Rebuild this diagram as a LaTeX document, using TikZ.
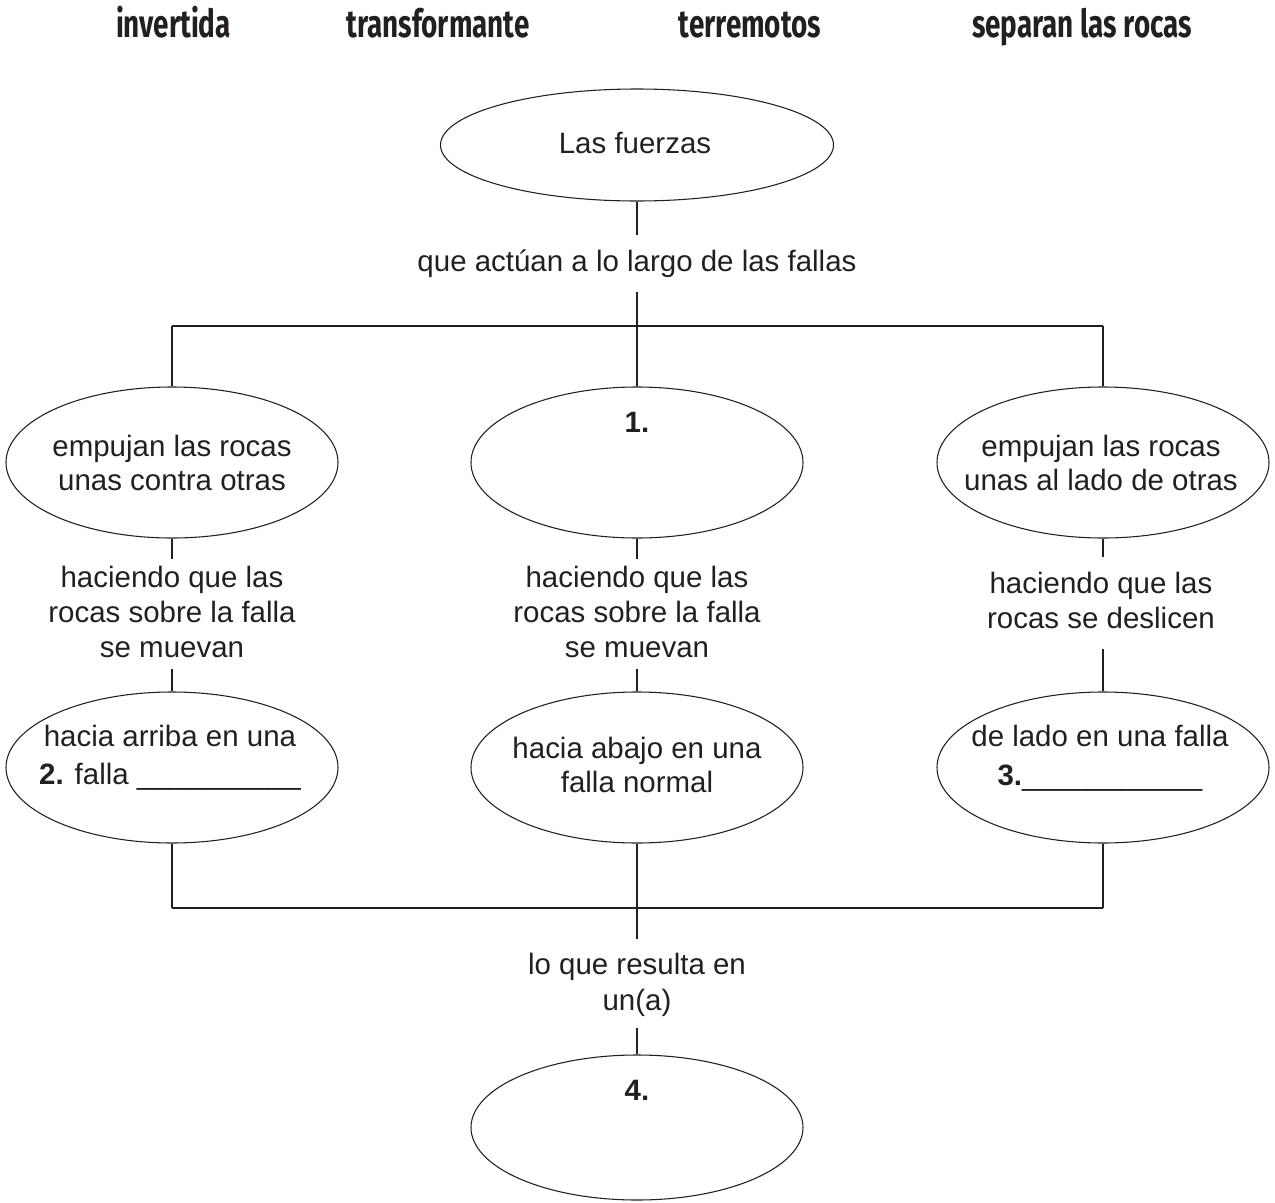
\documentclass[tikz,border=0pt]{standalone}
\usepackage{fontspec}
\setmainfont{Liberation Sans}
\newfontfamily\headfont[FakeStretch=0.72]{Fira Sans}
\usetikzlibrary{shapes.geometric}
\definecolor{ink}{HTML}{231F20}
\begin{document}
\begin{tikzpicture}[x=0.75pt,y=-0.75pt,
  ell/.style={ellipse,draw=ink,line width=0.8pt,inner sep=0pt,minimum width=249pt,minimum height=113.25pt},
  txt/.style={anchor=base,inner sep=0pt,text=ink,font=\fontsize{22.1}{26}\selectfont},
  head/.style={anchor=base,inner sep=0pt,text=ink,font=\headfont\bfseries\fontsize{29}{30}\selectfont},
  link/.style={draw=ink,line width=0.8pt}]
\useasboundingbox (0,0) rectangle (1275,1203);

% word bank
\node[head] (w1) at (173.5,37) {invertida};
\node[head] (w2) at (438,37) {transformante};
\node[head] (w3) at (750,37) {terremotos};
\node[head] (w4) at (1082,37) {separan las rocas};

% top
\node[ell,minimum width=294.75pt,minimum height=84pt] (F) at (637,145) {};
\node[txt] (tF) at (635,153) {Las fuerzas};
\coordinate (q1) at (637,235);
\node[txt] (tq) at (637,271) {que actúan a lo largo de las fallas};
\coordinate (q2) at (637,292);
\coordinate (bL) at (172,326);
\coordinate (bM) at (637,326);
\coordinate (bR) at (1103,326);

% middle row
\node[ell] (A) at (172,462.5) {};
\node[ell] (B) at (637,462.5) {};
\node[ell] (C) at (1103,462.5) {};
\node[txt] (tA1) at (172,456) {empujan las rocas};
\node[txt] (tA2) at (172,490) {unas contra otras};
\node[txt] (tB1) at (637,432) {\textbf{1.}};
\node[txt] (tC1) at (1101,456) {empujan las rocas};
\node[txt] (tC2) at (1101,490) {unas al lado de otras};

% connector labels
\coordinate (a1) at (172,559);
\node[txt] (hA1) at (172,587) {haciendo que las};
\node[txt] (hA2) at (172,622) {rocas sobre la falla};
\node[txt] (hA3) at (172,657) {se muevan};
\coordinate (a2) at (172,669);
\coordinate (m1) at (637,559);
\node[txt] (hB1) at (637,587) {haciendo que las};
\node[txt] (hB2) at (637,622) {rocas sobre la falla};
\node[txt] (hB3) at (637,657) {se muevan};
\coordinate (m2) at (637,669);
\coordinate (r1) at (1103,557);
\node[txt] (hC1) at (1101,593) {haciendo que las};
\node[txt] (hC2) at (1101,628) {rocas se deslicen};
\coordinate (r2) at (1103,649);

% bottom row
\node[ell] (D) at (172,767.5) {};
\node[ell] (E) at (637,767.5) {};
\node[ell] (G) at (1103,767.5) {};
\node[txt] (tD1) at (170,746) {hacia arriba en una};
\node[txt] (tD2) at (170,784) {\textbf{2.} falla \_\_\_\_\_\_\_\_\_\_};
\node[txt] (tE1) at (637,758) {hacia abajo en una};
\node[txt] (tE2) at (637,792) {falla normal};
\node[txt] (tG1) at (1100,746) {de lado en una falla};
\node[txt] (tG2) at (1100,785) {\textbf{3.}\_\_\_\_\_\_\_\_\_\_\_};

\coordinate (cL) at (172,908);
\coordinate (cM) at (637,908);
\coordinate (cR) at (1103,908);
\coordinate (d1) at (637,939);
\node[txt] (tr1) at (637,974) {lo que resulta en};
\node[txt] (tr2) at (637,1010) {un(a)};
\coordinate (d2) at (637,1028);

\node[ell,minimum height=108.75pt] (H) at (637,1127.5) {};
\node[txt] (tH) at (637,1100) {\textbf{4.}};

% connectors
\draw[link] (F.south) -- (q1);
\draw[link] (q2) -- (bM);
\draw[link] (bL) -- (bR);
\draw[link] (bL) -- (A.north);
\draw[link] (bM) -- (B.north);
\draw[link] (bR) -- (C.north);
\draw[link] (A.south) -- (a1);
\draw[link] (a2) -- (D.north);
\draw[link] (B.south) -- (m1);
\draw[link] (m2) -- (E.north);
\draw[link] (C.south) -- (r1);
\draw[link] (r2) -- (G.north);
\draw[link] (D.south) -- (cL);
\draw[link] (E.south) -- (cM) -- (d1);
\draw[link] (G.south) -- (cR);
\draw[link] (cL) -- (cR);
\draw[link] (d2) -- (H.north);
\end{tikzpicture}
\end{document}
